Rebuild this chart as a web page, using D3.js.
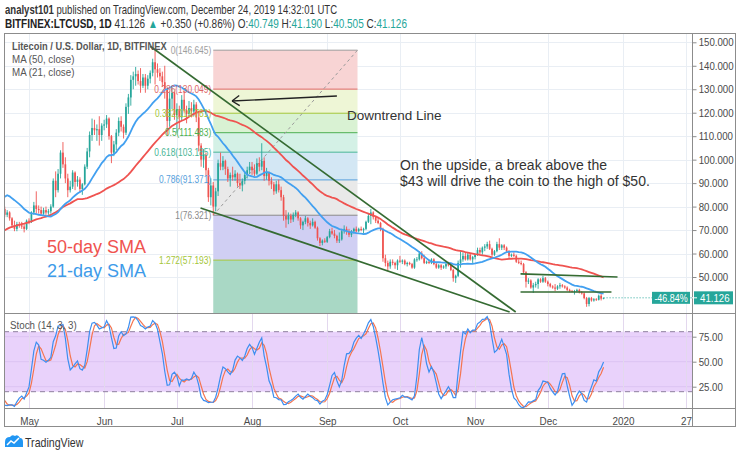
<!DOCTYPE html>
<html><head><meta charset="utf-8">
<script src="https://cdn.jsdelivr.net/npm/d3@7/dist/d3.min.js"></script>
<style>
body{margin:0;background:#fff;}
svg{display:block;}
</style></head><body>
<svg id="c" width="740" height="456"></svg>
<script>
// ---------- DATA (daily [open, high, low, close], BITFINEX:LTCUSD) ----------
const firstDay = "2019-03-02";
const mar = [[49.0,50.0,48.5,49.5],[49.5,50.0,48.5,49.0],[49.0,49.5,47.0,47.5],[47.5,56.0,47.0,55.0],[55.0,58.0,54.0,57.0],[57.0,59.0,56.0,58.0],[58.0,59.5,55.5,56.5],[56.5,59.5,56.0,59.0],[59.0,60.5,58.0,60.0],[60.0,60.5,57.5,58.0],[58.0,59.5,57.0,59.0],[59.0,60.0,58.0,59.0],[59.0,60.0,57.5,58.5],[58.5,61.0,58.0,60.5],[60.5,64.0,60.0,63.0],[63.0,63.5,61.5,62.0],[62.0,63.0,61.0,61.5],[61.5,62.5,61.0,62.0],[62.0,64.0,61.5,63.0],[63.0,63.5,60.0,61.0],[61.0,62.0,60.5,61.5],[61.5,62.5,61.0,62.0],[62.0,62.5,61.0,61.5],[61.5,62.0,59.0,60.0],[60.0,61.0,59.5,60.5],[60.5,63.5,60.0,63.0],[63.0,63.5,61.5,62.0],[62.0,64.0,61.5,63.5],[63.5,64.5,62.5,63.0],[63.0,63.5,62.0,62.5]];
const apr = [[62.5,64.0,62.0,63.0],[63.0,88.0,62.5,85.0],[85.0,95.0,84.0,90.0],[90.0,91.0,84.0,87.0],[87.0,91.5,86.0,90.0],[90.0,93.0,88.5,90.0],[90.0,93.5,89.0,92.0],[92.0,96.0,90.0,94.0],[94.0,94.5,88.0,89.0],[89.0,93.5,88.0,92.0],[92.0,92.5,81.5,83.0],[83.0,84.5,81.0,83.0],[83.0,84.0,82.0,83.0],[83.0,85.0,82.0,84.0],[84.0,85.5,79.0,80.0],[80.0,83.0,79.5,82.0],[82.0,84.0,81.0,82.0],[82.0,83.5,81.0,82.0],[82.0,82.5,80.0,81.0],[81.0,81.5,78.5,79.0],[79.0,80.0,75.5,76.5],[76.5,78.5,75.5,77.5],[77.5,78.0,74.0,75.0],[75.0,75.5,71.0,72.0],[72.0,74.0,69.5,70.5],[70.5,73.5,69.5,72.5],[72.5,73.5,71.0,72.0],[72.0,73.5,70.5,71.5],[71.5,72.5,69.0,70.5],[70.5,74.5,70.0,74.0]];
const may = [[74.0,75.0,72.5,73.5],[73.5,78.0,73.0,77.5],[77.5,82.0,76.5,80.5],[80.5,86.5,77.0,79.0],[79.0,80.5,77.0,78.5],[78.5,80.0,76.0,77.0],[77.0,79.5,76.5,78.5],[78.5,80.0,76.5,77.5],[77.5,79.0,76.5,78.0],[78.0,81.0,77.0,80.0],[80.0,92.0,79.5,91.0],[91.0,95.0,84.0,87.0],[87.0,96.0,86.0,94.0],[94.0,104.0,92.0,103.0],[103.0,107.5,96.5,98.0],[98.0,101.0,90.0,92.0],[92.0,94.0,84.0,87.0],[87.0,91.0,86.0,88.5],[88.5,95.5,87.5,94.5],[94.5,95.0,87.0,90.5],[90.5,93.0,88.5,91.5],[91.5,92.5,86.0,87.5],[87.5,90.0,85.0,89.5],[89.5,98.0,89.0,97.0],[97.0,105.0,96.0,103.5],[103.5,112.0,101.0,110.5],[110.5,117.5,108.0,113.5],[113.5,117.0,110.5,112.5],[112.5,115.0,108.0,113.0],[113.0,118.5,106.0,110.5],[110.5,115.5,108.0,114.5]];
const jun = [[114.5,117.0,112.5,115.0],[115.0,119.0,113.5,117.5],[117.5,118.0,108.5,110.0],[110.0,110.5,98.5,103.0],[103.0,108.0,101.5,106.5],[106.5,113.0,104.0,111.5],[111.5,118.0,110.0,116.5],[116.5,118.5,112.0,114.0],[114.0,115.0,109.0,111.5],[111.5,124.0,110.5,122.5],[122.5,128.0,119.5,126.5],[126.5,136.0,123.0,134.0],[134.0,137.5,130.0,135.5],[135.5,139.5,131.5,136.5],[136.5,138.0,132.0,133.5],[133.5,139.0,128.5,131.5],[131.5,136.5,130.5,135.0],[135.0,136.5,128.5,131.5],[131.5,136.0,130.0,134.5],[134.5,138.0,132.5,137.0],[137.0,143.0,135.5,141.5],[141.5,146.645,132.0,138.5],[138.5,141.0,135.0,137.0],[137.0,139.0,133.5,135.5],[135.5,137.5,131.0,133.0],[133.0,140.0,126.0,130.0],[130.0,131.0,110.0,116.5],[116.5,129.0,114.0,126.0],[126.0,131.0,121.5,128.5],[128.5,129.0,117.0,119.0]];
const jul = [[119.0,124.0,111.5,121.5],[121.5,123.0,113.0,118.0],[118.0,127.5,116.5,125.5],[125.5,129.5,120.0,121.0],[121.0,123.0,115.5,119.5],[119.5,125.0,118.5,122.0],[122.0,124.5,118.0,120.5],[120.5,125.5,118.5,123.5],[123.5,124.5,116.0,118.0],[118.0,120.0,103.5,106.0],[106.0,107.0,97.0,100.0],[100.0,104.5,96.5,102.0],[102.0,103.0,93.0,95.5],[95.5,96.5,82.0,84.0],[84.0,92.0,80.5,89.0],[89.0,90.5,76.321,80.0],[80.0,88.0,78.0,86.5],[86.5,100.0,84.5,98.5],[98.5,103.0,95.5,97.0],[97.0,101.5,95.5,99.5],[99.5,100.0,93.5,96.0],[96.0,97.0,90.5,92.0],[92.0,94.5,88.5,93.5],[93.5,97.0,91.0,92.5],[92.5,95.5,91.0,94.0],[94.0,94.5,88.5,90.0],[90.0,94.0,87.5,89.0],[89.0,92.0,86.5,91.0],[91.0,95.0,89.5,93.5],[93.5,97.0,92.0,95.5],[95.5,99.0,94.0,97.0]];
const aug = [[97.0,99.0,93.5,95.5],[95.5,98.0,93.0,94.0],[94.0,100.5,93.5,98.5],[98.5,101.0,95.0,97.0],[97.0,107.0,95.5,99.5],[99.5,101.0,91.0,93.0],[93.0,96.5,91.5,94.5],[94.5,95.0,89.0,91.0],[91.0,92.5,87.5,89.5],[89.5,90.5,85.0,86.5],[86.5,91.0,85.5,89.5],[89.5,91.5,86.0,87.0],[87.0,88.5,82.5,84.0],[84.0,85.0,74.0,76.0],[76.0,78.5,71.0,74.5],[74.5,77.5,72.5,76.0],[76.0,77.0,73.0,74.5],[74.5,77.5,73.5,76.5],[76.5,78.5,75.5,77.5],[77.5,78.0,74.0,75.0],[75.0,75.5,70.5,72.0],[72.0,74.0,70.0,73.5],[73.5,76.0,72.5,75.0],[75.0,75.5,71.5,73.0],[73.0,74.0,70.5,72.0],[72.0,75.0,71.5,73.5],[73.5,74.0,70.5,71.0],[71.0,71.5,65.5,66.5],[66.5,67.0,63.2,64.5],[64.5,66.0,63.5,65.5],[65.5,66.5,64.5,65.0]];
const sep = [[65.0,67.5,64.5,67.0],[67.0,70.5,66.5,69.5],[69.5,71.0,68.0,68.5],[68.5,70.0,66.5,67.5],[67.5,68.0,64.5,65.5],[65.5,69.0,64.5,66.0],[66.0,70.5,65.5,69.5],[69.5,72.0,68.5,70.5],[70.5,71.5,68.0,69.5],[69.5,70.5,67.0,68.0],[68.0,70.0,67.0,69.5],[69.5,71.0,68.5,70.5],[70.5,71.5,69.0,69.5],[69.5,71.0,69.0,70.5],[70.5,71.5,69.5,70.0],[70.0,71.0,68.5,70.5],[70.5,74.0,70.0,73.5],[73.5,77.0,73.0,76.0],[76.0,79.0,72.5,77.5],[77.5,78.0,74.5,75.5],[75.5,76.0,73.0,74.0],[74.0,75.0,72.5,73.0],[73.0,73.5,69.5,70.5],[70.5,71.0,56.5,58.0],[58.0,59.5,54.5,56.0],[56.0,57.0,52.5,54.5],[54.5,57.5,53.5,56.5],[56.5,57.5,55.0,56.0],[56.0,56.5,53.5,55.0],[55.0,57.5,53.0,57.0]];
const oct = [[57.0,59.0,56.0,56.5],[56.5,57.5,55.5,57.0],[57.0,57.5,55.0,55.5],[55.5,56.5,54.5,56.0],[56.0,56.5,55.0,55.5],[55.5,56.0,53.5,54.0],[54.0,58.0,53.5,57.5],[57.5,58.5,56.5,57.5],[57.5,61.0,57.0,60.0],[60.0,61.0,57.5,58.0],[58.0,59.5,55.5,56.0],[56.0,57.0,55.5,56.5],[56.5,57.5,55.5,56.0],[56.0,58.0,55.5,57.5],[57.5,58.0,55.0,55.5],[55.5,56.0,53.5,54.0],[54.0,55.5,53.5,55.0],[55.0,55.5,53.0,54.0],[54.0,55.0,53.5,54.5],[54.5,56.0,53.5,55.5],[55.5,56.5,54.5,55.0],[55.0,55.5,52.5,53.0],[53.0,53.5,48.0,49.5],[49.5,51.0,47.5,50.5],[50.5,57.0,50.0,56.0],[56.0,61.0,54.0,57.5],[57.5,60.5,56.5,59.0],[59.0,60.5,57.0,57.5],[57.5,60.5,57.0,59.5],[59.5,60.0,57.0,57.5],[57.5,59.0,56.0,58.5]];
const nov = [[58.5,60.0,57.5,59.5],[59.5,62.5,59.0,61.5],[61.5,62.5,59.5,60.5],[60.5,63.0,59.5,62.5],[62.5,64.0,61.0,63.0],[63.0,65.0,62.0,64.0],[64.0,65.5,61.5,62.0],[62.0,62.5,58.5,59.5],[59.5,61.5,59.0,61.0],[61.0,65.0,60.5,64.0],[64.0,66.5,61.5,62.5],[62.5,64.0,61.5,63.5],[63.5,64.0,61.5,62.5],[62.5,63.0,60.5,61.0],[61.0,61.5,58.0,59.0],[59.0,60.0,58.5,59.5],[59.5,60.5,58.5,59.0],[59.0,59.5,56.0,56.5],[56.5,57.5,55.5,56.0],[56.0,57.0,55.0,55.5],[55.5,56.0,51.5,52.0],[52.0,52.5,45.5,48.0],[48.0,49.5,47.0,48.5],[48.5,49.0,45.0,45.5],[45.5,47.5,43.2,46.5],[46.5,48.0,45.5,47.0],[47.0,49.5,45.0,49.0],[49.0,49.5,47.5,48.0],[48.0,50.5,47.5,49.5],[49.5,50.0,47.5,48.0]];
const dec = [[48.0,48.5,46.0,47.0],[47.0,47.5,45.5,46.0],[46.0,46.5,45.0,45.5],[45.5,47.0,44.0,45.0],[45.0,46.5,44.5,46.0],[46.0,47.5,45.0,46.5],[46.5,47.0,45.5,46.0],[46.0,46.5,45.0,45.5],[45.5,46.0,44.0,44.5],[44.5,45.0,43.5,44.0],[44.0,44.5,43.5,43.8],[43.8,44.5,42.5,44.0],[44.0,45.0,43.5,44.5],[44.5,45.0,43.0,43.5],[43.5,44.0,42.5,43.0],[43.0,43.5,40.5,41.0],[41.0,41.5,37.3,38.5],[38.5,41.5,37.5,41.0],[41.0,41.5,39.5,40.0],[40.0,41.0,39.5,40.5],[40.5,41.0,39.8,40.3],[40.3,42.5,40.0,42.0],[42.0,43.0,40.0,40.776],[40.749,41.19,40.505,41.126]];

const priceTicks = [150,140,130,120,110,100,90,80,70,60,50];
const stochTicks = [75,50,25];
const timeTicks = ["2019-05-01","2019-06-01","2019-07-01","2019-08-01","2019-09-01","2019-10-01","2019-11-01","2019-12-01","2020-01-01","2020-01-27"];
const timeLabels = ["May","Jun","Jul","Aug","Sep","Oct","Nov","Dec","2020","27"];

const fibHigh = 146.645, fibLow = 76.321;
const fibLevels = [0,0.236,0.382,0.5,0.618,0.786,1,1.272,1.618];
const fibLabels = ["0(146.645)","0.236(130.049)","0.382(119.781)","0.5(111.483)","0.618(103.185)","0.786(91.371)","1(76.321)","1.272(57.193)",""];
const fibSpan = ["2019-07-16T00:00Z","2019-09-13T12:00Z"];

const trendUpper = [["2019-06-20T00:00Z",148.3],["2019-11-17T18:00Z",35.1]];
const trendLower = [["2019-07-10T18:00Z",79.4],["2019-11-15T06:00Z",35.1]];
const resistLine = [["2019-11-19T18:00Z",51.3],["2019-12-29T18:00Z",50.0]];
const supportLine = [["2019-11-19T18:00Z",43.6],["2019-12-27T06:00Z",43.6]];
const arrowLine = [["2019-09-05T00:00Z",127.1],["2019-07-23T18:00Z",125.0]];

const lastPrice = 41.126, lastChangePct = "-46.84%";

// ---------- BUILD ----------
const DAY = 864e5;
const t0 = Date.parse(firstDay + "T00:00Z");
const rows = [].concat(mar, apr, may, jun, jul, aug, sep, oct, nov, dec);
const bars = rows.map((r, i) => ({date: new Date(t0 + i*DAY), o:r[0], h:r[1], l:r[2], c:r[3]}));

function sma(arr, n){ return arr.map((v,i)=>{ if(i<n-1) return null; const w=arr.slice(i-n+1,i+1); if(w.some(q=>q==null)) return null; return d3.mean(w);}); }
const closes = bars.map(b=>b.c);
const ma50 = sma(closes,50), ma21 = sma(closes,21);
const rawK = bars.map((b,i)=>{ if(i<13) return null; const w=bars.slice(i-13,i+1); const hh=d3.max(w,d=>d.h), ll=d3.min(w,d=>d.l); return 100*(b.c-ll)/(hh-ll); });
const kLine = sma(rawK,3), dLine = sma(kLine,3);

const svg = d3.select("#c");
const FONT = "'Liberation Sans',Arial,sans-serif";

// narrow text helper (emulates the condensed TradingView UI font)
function ntext(g, xx, yy, txt, size, sx, fill, anchor, weight){
  const t = g.append("text").attr("transform",`translate(${xx},${yy}) scale(${sx},1)`)
    .attr("font-family",FONT).attr("font-size",size).attr("fill",fill||"#4a4a4a");
  if(anchor) t.attr("text-anchor",anchor);
  if(weight) t.attr("font-weight",weight);
  if(txt!=null) t.text(txt);
  return t;
}

const L=4, R=735, AX=692, TOP=33, MB=313, SB=408, BOT=426;
const x = d3.scaleUtc().domain([new Date("2019-05-01T00:00Z"), new Date("2020-01-27T00:00Z")]).range([29,686]);
const y = d3.scaleLinear().domain([50,150]).range([277,42.3]);
const ys = d3.scaleLinear().domain([0,100]).range([411.7,311.7]);
const px = s => x(new Date(s));

const defs = svg.append("defs");
defs.append("clipPath").attr("id","cm").append("rect").attr("x",L).attr("y",TOP).attr("width",AX-L).attr("height",MB-TOP);
defs.append("clipPath").attr("id","cs").append("rect").attr("x",L).attr("y",MB).attr("width",AX-L).attr("height",SB-MB);

// header
const h1 = ntext(svg,5,14,null,12.5,0.765,"#333");
h1.append("tspan").attr("font-weight","bold").text("analyst101");
h1.append("tspan").text(" published on TradingView.com, December 24, 2019 14:32:01 UTC");
const h2 = ntext(svg,5,28,null,12.5,0.8,"#333");
const teal = "#26a69a";
[["BITFINEX:LTCUSD, 1D","#222",true],[" 41.126 ","#333"],["\u25B2",teal],[" +0.350 (+0.86%) ","#333"],["O:","#333"],["40.749",teal],[" H:","#333"],["41.190",teal],[" L:","#333"],["40.505",teal],[" C:","#333"],["41.126",teal]]
 .forEach(p=>{ const t=h2.append("tspan").attr("fill",p[1]).text(p[0]); if(p[2]) t.attr("font-weight","bold"); });

// grids
const grid = svg.append("g").attr("stroke","#e9eef4").attr("stroke-width",1);
priceTicks.forEach(v=> grid.append("line").attr("x1",L).attr("x2",AX).attr("y1",Math.round(y(v))+0.5).attr("y2",Math.round(y(v))+0.5));
timeTicks.forEach(s=> grid.append("line").attr("x1",Math.round(px(s))+0.5).attr("x2",Math.round(px(s))+0.5).attr("y1",TOP).attr("y2",SB));

// fib zones
const fibPrice = lv => fibHigh - lv*(fibHigh-fibLow);
const zoneColors = ["#f8d4d4","#eef6d6","#d9f2d3","#d4f1e6","#d3e7f4","#e9e9e9","#d0cff3","#a9d8c5"];
const levelColors = ["#9e9e9e","#e06666","#a4c639","#4caf50","#48b596","#56a0dc","#8a8a8a","#a4c639","#5b7ff0"];
const fx1 = px(fibSpan[0]), fx2 = px(fibSpan[1]);
const gm = svg.append("g").attr("clip-path","url(#cm)");
for(let i=0;i<fibLevels.length-1;i++){
  const ya=y(fibPrice(fibLevels[i])), yb=y(fibPrice(fibLevels[i+1]));
  gm.append("rect").attr("x",fx1).attr("y",ya).attr("width",fx2-fx1).attr("height",yb-ya).attr("fill",zoneColors[i]);
}
fibLevels.slice(0,8).forEach((lv,i)=>{
  const yy=y(fibPrice(lv));
  gm.append("line").attr("x1",fx1).attr("x2",fx2).attr("y1",yy).attr("y2",yy).attr("stroke",levelColors[i]).attr("stroke-width",1);
});
gm.append("line").attr("x1",fx1).attr("y1",y(fibLow)).attr("x2",fx2).attr("y2",y(fibHigh)).attr("stroke","#9a9a9a").attr("stroke-width",1).attr("stroke-dasharray","3,3");

// candles
const up="#26a69a", dn="#ef5350", bw=1.7;
const cg = gm.append("g");
bars.forEach(b=>{
  const cx=x(b.date), col=b.c>=b.o?up:dn;
  cg.append("line").attr("x1",cx).attr("x2",cx).attr("y1",y(b.h)).attr("y2",y(b.l)).attr("stroke",col).attr("stroke-width",0.9);
  const yt=y(Math.max(b.o,b.c)), yb=y(Math.min(b.o,b.c));
  cg.append("rect").attr("x",cx-bw/2).attr("y",yt).attr("width",bw).attr("height",Math.max(0.8,yb-yt)).attr("fill",col);
});

// MAs
const lineGen = (vals, ysc) => d3.line().defined((d,i)=>vals[i]!=null).x(d=>x(d.date)).y((d,i)=>ysc(vals[i]));
gm.append("path").datum(bars).attr("d",lineGen(ma50,y)).attr("fill","none").attr("stroke","#ef5350").attr("stroke-width",1.8);
gm.append("path").datum(bars).attr("d",lineGen(ma21,y)).attr("fill","none").attr("stroke","#42a0f0").attr("stroke-width",1.8);

// fib labels (on top of series)
fibLevels.slice(0,8).forEach((lv,i)=>{
  ntext(gm, fx1-2, y(fibPrice(lv))+3.5, fibLabels[i], 10.5, 0.8, levelColors[i], "end");
});

// drawings
const green="#356b32";
[trendUpper,trendLower,resistLine,supportLine].forEach(seg=>{
  gm.append("line").attr("x1",px(seg[0][0])).attr("y1",y(seg[0][1])).attr("x2",px(seg[1][0])).attr("y2",y(seg[1][1])).attr("stroke",green).attr("stroke-width",1.7);
});
const ax1=px(arrowLine[0][0]), ay1=y(arrowLine[0][1]), ax2=px(arrowLine[1][0]), ay2=y(arrowLine[1][1]);
gm.append("line").attr("x1",ax1).attr("y1",ay1).attr("x2",ax2).attr("y2",ay2).attr("stroke","#222").attr("stroke-width",1.4);
const ang=Math.atan2(ay2-ay1, ax2-ax1);
[0.6,-0.6].forEach(a=>{
  gm.append("line").attr("x1",ax2).attr("y1",ay2).attr("x2",ax2-9*Math.cos(ang+a)).attr("y2",ay2-9*Math.sin(ang+a)).attr("stroke","#222").attr("stroke-width",1.4);
});
gm.append("text").attr("x",347).attr("y",120).attr("font-family",FONT).attr("font-size",13.5).attr("fill","#333").text("Downtrend Line");
gm.append("text").attr("x",400).attr("y",170).attr("font-family",FONT).attr("font-size",14).attr("fill","#333").text("On the upside, a break above the");
gm.append("text").attr("x",400).attr("y",186).attr("font-family",FONT).attr("font-size",14).attr("fill","#333").text("$43 will drive the coin to the high of $50.");
gm.append("text").attr("x",47).attr("y",253).attr("font-family",FONT).attr("font-size",18).attr("fill","#ef5350").text("50-day SMA");
gm.append("text").attr("x",47).attr("y",277).attr("font-family",FONT).attr("font-size",18).attr("fill","#3d9be9").text("21-day SMA");

// legend
ntext(svg,12,50,"Litecoin / U.S. Dollar, 1D, BITFINEX",11.5,0.81,"#555","start","bold");
ntext(svg,12,63,"MA (50, close)",11.5,0.85,"#555");
ntext(svg,12,76,"MA (21, close)",11.5,0.85,"#555");

// price line
const lastBar = bars[bars.length-1];
svg.append("line").attr("x1",x(lastBar.date)).attr("x2",AX).attr("y1",y(lastPrice)).attr("y2",y(lastPrice)).attr("stroke",teal).attr("stroke-width",1).attr("stroke-dasharray","1,2");
svg.append("rect").attr("x",652).attr("y",y(lastPrice)-6).attr("width",38).attr("height",12).attr("fill",teal);
ntext(svg,671,y(lastPrice)+4,lastChangePct,10.5,0.85,"#fff","middle");

// stoch pane
const gs = svg.append("g").attr("clip-path","url(#cs)");
gs.append("rect").attr("x",L).attr("y",ys(80)).attr("width",AX-L).attr("height",ys(20)-ys(80)).attr("fill","#e9d2fb");
stochTicks.forEach(v=> gs.append("line").attr("x1",L).attr("x2",AX).attr("y1",ys(v)).attr("y2",ys(v)).attr("stroke","#dcc3f2").attr("stroke-width",1));
timeTicks.forEach(s=> gs.append("line").attr("x1",Math.round(px(s))+0.5).attr("x2",Math.round(px(s))+0.5).attr("y1",MB).attr("y2",SB).attr("stroke","#e3d8ee"));
[80,20].forEach(v=> gs.append("line").attr("x1",L).attr("x2",AX).attr("y1",ys(v)).attr("y2",ys(v)).attr("stroke","#8e7f9e").attr("stroke-width",1).attr("stroke-dasharray","5,4"));
gs.append("path").datum(bars).attr("d",lineGen(dLine,ys)).attr("fill","none").attr("stroke","#f5744f").attr("stroke-width",1.2);
gs.append("path").datum(bars).attr("d",lineGen(kLine,ys)).attr("fill","none").attr("stroke","#3d8ef0").attr("stroke-width",1.2);
ntext(svg,10,329,"Stoch (14, 3, 3)",11.5,0.85,"#555");

// frame
const fr = svg.append("g").attr("stroke","#8c8c8c").attr("stroke-width",1).attr("fill","none");
fr.append("rect").attr("x",L+0.5).attr("y",TOP+0.5).attr("width",R-L).attr("height",BOT-TOP);
fr.append("line").attr("x1",L).attr("x2",R).attr("y1",MB+0.5).attr("y2",MB+0.5);
fr.append("line").attr("x1",L).attr("x2",R).attr("y1",SB+0.5).attr("y2",SB+0.5);
fr.append("line").attr("x1",AX+0.5).attr("x2",AX+0.5).attr("y1",TOP).attr("y2",BOT);

// axes
const pa = svg.append("g").attr("transform",`translate(${AX+0.5},0)`)
  .call(d3.axisRight(y).tickValues(priceTicks).tickSize(4).tickPadding(3).tickFormat(d3.format(".3f")));
const sa = svg.append("g").attr("transform",`translate(${AX+0.5},0)`)
  .call(d3.axisRight(ys).tickValues(stochTicks).tickSize(4).tickPadding(3).tickFormat(d3.format(".2f")));
const ta = svg.append("g").attr("transform",`translate(0,${SB})`)
  .call(d3.axisBottom(x).tickValues(timeTicks.map(s=>new Date(s+"T00:00Z"))).tickSize(0).tickPadding(9).tickFormat((d,i)=>timeLabels[i]));
[pa,sa,ta].forEach(g=>{ g.select(".domain").remove(); g.selectAll("line").attr("stroke","#8c8c8c");
  g.selectAll("text").attr("font-family",FONT).attr("font-size",11).attr("fill","#4a4a4a"); });
[pa,sa].forEach(g=> g.selectAll("text").attr("x",7).attr("transform","scale(0.88,1)"));
ta.selectAll("text").attr("transform","scale(0.9,1)");

// last price label on axis
svg.append("rect").attr("x",AX+2).attr("y",y(lastPrice)-6.5).attr("width",R-AX-4).attr("height",13).attr("fill",teal);
svg.append("line").attr("x1",AX).attr("x2",AX+5).attr("y1",y(lastPrice)).attr("y2",y(lastPrice)).attr("stroke","#fff");
ntext(svg,AX+8,y(lastPrice)+4,lastPrice.toFixed(3),11,0.88,"#fff");

// logo
const logo = svg.append("g").attr("transform","translate(5,435)");
logo.append("path").attr("d","M0,12 L0,7 Q0,2 5,2 Q7,-1 10,1 Q13,-1 15,3 Q18,3 18,7 L18,12 Z").attr("fill","#2196f3");
logo.append("path").attr("d","M2,10 L6,6 L9,8 L14,3").attr("fill","none").attr("stroke","#fff").attr("stroke-width",1.5);
ntext(svg,25,447,"TradingView",12.5,0.85,"#333");
</script>
</body></html>
